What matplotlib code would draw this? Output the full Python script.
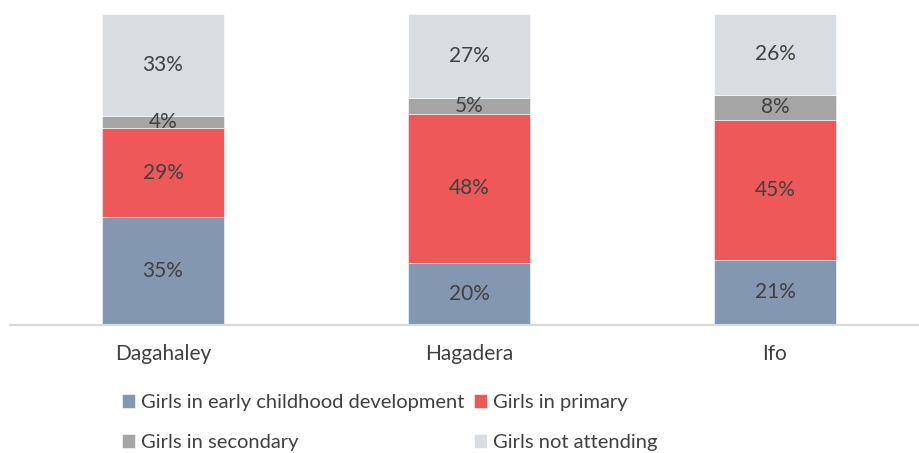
import matplotlib
matplotlib.use("Agg")
import matplotlib.pyplot as plt
import numpy as np

camps = ["Dagahaley", "Hagadera", "Ifo"]
series_names = [
    "Girls in early childhood development",
    "Girls in primary",
    "Girls in secondary",
    "Girls not attending",
]
ecd = [35, 20, 21]
primary = [29, 48, 45]
secondary = [4, 5, 8]
not_attending = [33, 27, 26]

colors = ["#8497B0", "#EF5858", "#A5A5A5", "#D9DCE1"]
text_color = "#404040"

plt.rcParams["font.family"] = ["Lato", "DejaVu Sans"]

fig = plt.figure(figsize=(9.19, 4.53), dpi=100)
ax = fig.add_axes([10 / 919, 1 - 325 / 453, 918 / 919, (325 - 14) / 453])

values = np.array([ecd, primary, secondary, not_attending], dtype=float)
totals = values.sum(axis=0)
shares = values / totals * 100  # 100% stacked columns

x = np.arange(len(camps))
bottom = np.zeros(len(camps))
handles = []
for name, vals, share, col in zip(series_names, values, shares, colors):
    bars = ax.bar(x, share, width=0.4, bottom=bottom, color=col,
                  edgecolor="white", linewidth=0.4, label=name)
    handles.append(bars)
    for xi, b, s, v in zip(x, bottom, share, vals):
        ax.text(xi, b + s / 2, f"{int(v)}%", ha="center", va="center",
                fontsize=15, color=text_color)
    bottom += share

ax.set_xlim(-0.5, 2.5)
ax.set_ylim(0, 100)
ax.set_yticks([])
ax.set_xticks(x)
ax.set_xticklabels(camps, fontsize=15, color=text_color)
ax.tick_params(axis="x", length=0, pad=14)
for side in ["top", "left", "right"]:
    ax.spines[side].set_visible(False)
ax.spines["bottom"].set_color("#D9D9D9")
ax.spines["bottom"].set_linewidth(1.5)

order = [0, 2, 1, 3]
fig.legend([handles[i] for i in order], [series_names[i] for i in order],
           ncol=2, loc="upper left", bbox_to_anchor=(114 / 919, 1 - 386 / 453),
           frameon=False, fontsize=14.5, labelcolor=text_color,
           handlelength=0.65, handleheight=0.65, handletextpad=0.3,
           columnspacing=0.45, labelspacing=1.15, borderaxespad=0)

fig.savefig("out.png", dpi=100)
